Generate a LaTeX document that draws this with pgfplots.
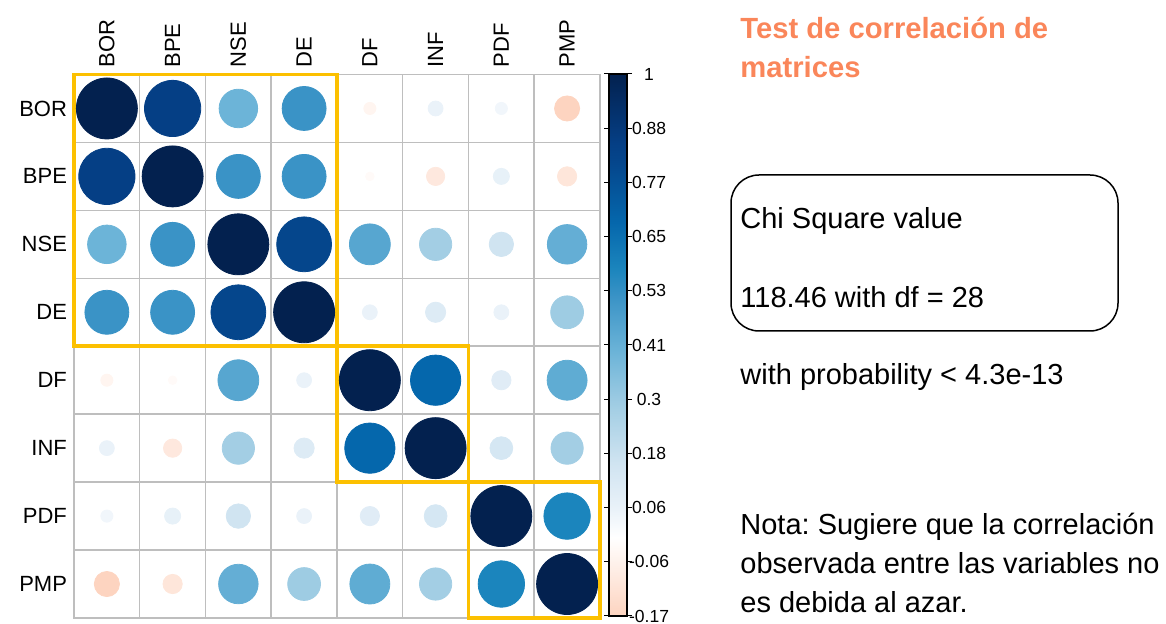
\documentclass[border=0pt]{standalone}
\usepackage{pgfplots}
\pgfplotsset{compat=1.18}
\usepackage{pgfplotstable}
\usepackage{fontspec}
\setmainfont{Liberation Sans}
\frenchspacing
\definecolor{gridgray}{RGB}{190,190,190}
\definecolor{boxgold}{RGB}{252,192,0}
\definecolor{titleorange}{RGB}{250,134,90}
\pgfplotstableread{
x y r
1 8 1
2 8 0.85
3 8 0.40
4 8 0.52
5 8 -0.04
6 8 0.06
7 8 0.04
8 8 -0.17
1 7 0.85
2 7 1
3 7 0.52
4 7 0.52
5 7 -0.02
6 7 -0.09
7 7 0.07
8 7 -0.10
1 6 0.40
2 6 0.52
3 6 1
4 6 0.81
5 6 0.45
6 6 0.28
7 6 0.16
8 6 0.42
1 5 0.52
2 5 0.52
3 5 0.81
4 5 1
5 5 0.06
6 5 0.11
7 5 0.06
8 5 0.29
1 4 -0.04
2 4 -0.02
3 4 0.45
4 4 0.06
5 4 1
6 4 0.68
7 4 0.10
8 4 0.43
1 3 0.06
2 3 -0.09
3 3 0.28
4 3 0.11
5 3 0.68
6 3 1
7 3 0.14
8 3 0.28
1 2 0.04
2 2 0.07
3 2 0.16
4 2 0.06
5 2 0.10
6 2 0.14
7 2 1
8 2 0.58
1 1 -0.17
2 1 -0.10
3 1 0.42
4 1 0.29
5 1 0.43
6 1 0.28
7 1 0.58
8 1 1
}\corrdata
\begin{document}
\begin{tikzpicture}
\useasboundingbox (0,0) rectangle (583pt,-312pt);
\begin{axis}[
  at={(37pt,-37.25pt)}, anchor=north west,
  width=263pt, height=271.75pt, scale only axis,
  xmin=0.5, xmax=8.5, ymin=0.5, ymax=8.5,
  xtick={1,...,8}, ytick={1,...,8},
  xticklabels={BOR,BPE,NSE,DE,DF,INF,PDF,PMP},
  yticklabels={PMP,PDF,INF,DF,DE,NSE,BPE,BOR},
  xticklabel pos=right,
  xticklabel style={rotate=90, anchor=west, font=\fontsize{11}{13}\selectfont},
  yticklabel style={font=\fontsize{11}{13}\selectfont},
  major tick length=0pt, minor tick length=0pt,
  minor xtick={1.5,2.5,...,7.5}, minor ytick={1.5,2.5,...,7.5},
  xminorgrids=true, yminorgrids=true,
  minor grid style={draw=gridgray, line width=0.75pt},
  axis line style={draw=gridgray, line width=0.75pt},
  point meta min=-0.17, point meta max=1,
  colormap={corr}{rgb255(0pt)=(253,212,192); rgb255(17pt)=(255,255,255); rgb255(23pt)=(234,242,249); rgb255(33pt)=(208,228,241); rgb255(45pt)=(163,206,228); rgb255(57pt)=(108,180,216); rgb255(69pt)=(58,147,198); rgb255(75pt)=(27,133,189); rgb255(85pt)=(5,103,172); rgb255(98pt)=(5,70,140); rgb255(102pt)=(5,63,133); rgb255(117pt)=(3,33,79)},
  colorbar,
  colorbar style={
    at={(parent axis.north east)}, anchor=north west, xshift=-4pt, yshift=0.25pt,
    scale only axis, width=9pt, height=271pt,
    ytick={-0.17,-0.053,0.064,0.181,0.298,0.415,0.532,0.649,0.766,0.883,1},
    yticklabels={-0.17,-0.06,0.06,0.18,0.3,0.41,0.53,0.65,0.77,0.88,1},
    yticklabel style={font=\fontsize{8.75}{10}\selectfont, anchor=center, xshift=8.5pt},
    major tick length=2.5pt, tick align=outside,
    major tick style={black, line width=0.5pt},
    axis line style={black, line width=0.6pt},
  },
  clip=false,
]
\addplot[scatter, only marks, mark=*, point meta=\thisrow{r},
  scatter/use mapped color={draw=mapped color, fill=mapped color},
  visualization depends on={15.25*sqrt(abs(\thisrow{r})) \as \msize},
  scatter/@pre marker code/.append style={/tikz/mark size=\msize pt},
] table[x=x, y=y] {\corrdata};
\draw[boxgold, line width=1.9pt] (axis cs:0.5,4.5) rectangle (axis cs:4.5,8.5);
\draw[boxgold, line width=1.9pt] (axis cs:4.5,2.5) rectangle (axis cs:6.5,4.5);
\draw[boxgold, line width=1.9pt] (axis cs:6.5,0.5) rectangle (axis cs:8.5,2.5);
\end{axis}
\begin{scope}[every node/.style={inner sep=0pt, anchor=base west}]
\node[text=titleorange, font=\bfseries\fontsize{14.6}{19}\selectfont] at (370pt,-19.25pt) {Test de correlación de};
\node[text=titleorange, font=\bfseries\fontsize{14.6}{19}\selectfont] at (370pt,-39pt) {matrices};
\draw[black, line width=0.75pt, rounded corners=14pt] (365.5pt,-87.5pt) rectangle (559pt,-165.5pt);
\node[font=\fontsize{14.5}{19}\selectfont] at (370pt,-114.25pt) {Chi Square value};
\node[font=\fontsize{14.5}{19}\selectfont] at (370pt,-153.75pt) {118.46 with df = 28};
\node[font=\fontsize{14.5}{19}\selectfont] at (370pt,-192.25pt) {with probability < 4.3e-13};
\node[font=\fontsize{14.5}{19}\selectfont] at (370pt,-267.25pt) {Nota: Sugiere que la correlación};
\node[font=\fontsize{14.5}{19}\selectfont] at (370pt,-286.75pt) {observada entre las variables no};
\node[font=\fontsize{14.5}{19}\selectfont] at (370pt,-306.25pt) {es debida al azar.};
\end{scope}
\end{tikzpicture}
\end{document}
